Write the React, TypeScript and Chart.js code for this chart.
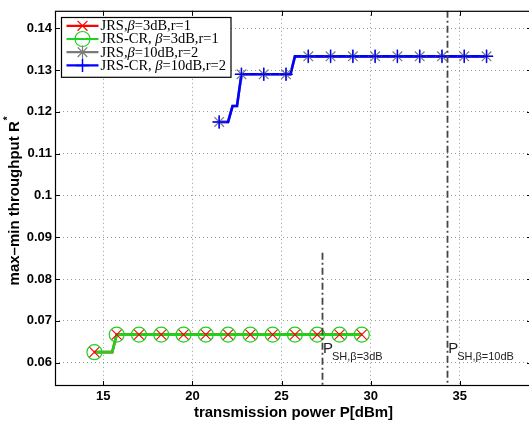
import React, { useEffect, useRef } from 'react';
import { Chart, registerables } from 'chart.js';

Chart.register(...registerables);

// ---- axes ----
const X_TICKS = [15, 20, 25, 30, 35];
const Y_TICKS = [0.06, 0.07, 0.08, 0.09, 0.1, 0.11, 0.12, 0.13, 0.14];
const X_MIN = 12.29;
const X_MAX = 39.05;
const Y_MIN = 0.0544;
const Y_MAX = 0.1442;
const X_TITLE = 'transmission power P[dBm]';
const Y_TITLE = 'max–min throughput R';
const Y_TITLE_SUP = '*';

// ---- beta = 3 dB, r = 1 (markers) ----
const P_LOW = [14.5, 15.75, 17, 18.25, 19.5, 20.75, 22, 23.25, 24.5, 25.75, 27, 28.25, 29.5];
const R_JRS_3DB = [0.0625, 0.0667, 0.0667, 0.0667, 0.0667, 0.0667, 0.0667, 0.0667, 0.0667, 0.0667, 0.0667, 0.0667, 0.0667];
const R_CR_3DB = [0.0625, 0.0667, 0.0667, 0.0667, 0.0667, 0.0667, 0.0667, 0.0667, 0.0667, 0.0667, 0.0667, 0.0667, 0.0667];
// line traces (finer power grid)
const P_LOW_LINE = [14.5, 15.5, 15.75, 29.5];
const R_JRS_3DB_LINE = [0.0625, 0.0625, 0.0667, 0.0667];
const R_CR_3DB_LINE = [0.0625, 0.0625, 0.0667, 0.0667];

// ---- beta = 10 dB, r = 2 (markers) ----
const P_HIGH = [21.5, 22.75, 24, 25.25, 26.5, 27.75, 29, 30.25, 31.5, 32.75, 34, 35.25, 36.5];
const R_JRS_10DB = [0.1176, 0.129, 0.129, 0.129, 0.1333, 0.1333, 0.1333, 0.1333, 0.1333, 0.1333, 0.1333, 0.1333, 0.1333];
const R_CR_10DB = [0.1176, 0.129, 0.129, 0.129, 0.1333, 0.1333, 0.1333, 0.1333, 0.1333, 0.1333, 0.1333, 0.1333, 0.1333];
const P_HIGH_LINE = [21.5, 22, 22.25, 22.5, 22.75, 25.5, 25.75, 36.5];
const R_JRS_10DB_LINE = [0.1176, 0.1176, 0.1214, 0.1214, 0.129, 0.129, 0.1333, 0.1333];
const R_CR_10DB_LINE = [0.1176, 0.1176, 0.1214, 0.1214, 0.129, 0.129, 0.1333, 0.1333];

// ---- legend ----
const SERIES_COLORS = ['#ff0000', '#1ed21e', '#7a7a7a', '#0000ff'];
const SERIES_MARKERS = ['crossRot', 'circle', 'star', 'cross'];
const SERIES_LABELS: [string, boolean][][] = [
  [['JRS,', false], ['β', true], ['=3dB,r=1', false]],
  [['JRS-CR, ', false], ['β', true], ['=3dB,r=1', false]],
  [['JRS,', false], ['β', true], ['=10dB,r=2', false]],
  [['JRS-CR, ', false], ['β', true], ['=10dB,r=2', false]],
];

// ---- annotations ----
const P_SH = [27.27, 34.29];
const P_SH_TOP = [0.0863, Y_MAX];
const P_SH_MAIN = 'P';
const P_SH_SUB = ['SH,β=3dB', 'SH,β=10dB'];
const P_SH_LABEL_Y = 0.0623;

const SANS = '"Liberation Sans", Arial, Helvetica, sans-serif';
const SERIF = '"Liberation Serif", "Times New Roman", serif';

const pts = (xs: number[], ys: number[]) => xs.map((x, i) => ({ x, y: ys[i] }));

function drawMarker(ctx: CanvasRenderingContext2D, style: string, x: number, y: number, r: number) {
  ctx.beginPath();
  const d = r * Math.SQRT1_2;
  if (style === 'circle') {
    ctx.arc(x, y, r, 0, Math.PI * 2);
  }
  if (style === 'cross' || style === 'star') {
    ctx.moveTo(x, y - r); ctx.lineTo(x, y + r);
    ctx.moveTo(x - r, y); ctx.lineTo(x + r, y);
  }
  if (style === 'crossRot' || style === 'star') {
    ctx.moveTo(x - d, y - d); ctx.lineTo(x + d, y + d);
    ctx.moveTo(x - d, y + d); ctx.lineTo(x + d, y - d);
  }
  ctx.stroke();
}

const MARKER_R = [7, 7.5, 6.8, 6.5];

const overlay = {
  id: 'overlay',
  afterDatasetsDraw(chart: any) {
    const { ctx, chartArea: a, scales } = chart;
    const xs = scales.x, ys = scales.y;
    ctx.save();
    ctx.beginPath();
    ctx.rect(a.left, a.top, a.right - a.left, a.bottom - a.top);
    ctx.clip();
    ctx.strokeStyle = '#444';
    ctx.lineWidth = 1.8;
    ctx.setLineDash([7, 3, 2, 3]);
    P_SH.forEach((p, i) => {
      const px = Math.round(xs.getPixelForValue(p)) + 0.5;
      ctx.beginPath();
      ctx.moveTo(px, ys.getPixelForValue(P_SH_TOP[i]));
      ctx.lineTo(px, a.bottom);
      ctx.stroke();
    });
    ctx.setLineDash([]);
    ctx.fillStyle = '#222';
    ctx.textBaseline = 'alphabetic';
    ctx.textAlign = 'left';
    P_SH.forEach((p, i) => {
      const px = xs.getPixelForValue(p) + 1;
      const py = ys.getPixelForValue(P_SH_LABEL_Y);
      ctx.font = `15px ${SANS}`;
      ctx.fillText(P_SH_MAIN, px, py);
      const w = ctx.measureText(P_SH_MAIN).width;
      ctx.font = `11px ${SANS}`;
      ctx.fillText(P_SH_SUB[i], px + w - 1, py + 7);
    });
    ctx.restore();
  },
  afterDraw(chart: any) {
    const { ctx, chartArea: a, scales } = chart;
    const xs = scales.x, ys = scales.y;
    ctx.save();
    // frame
    ctx.strokeStyle = '#000';
    ctx.lineWidth = 1.2;
    ctx.strokeRect(a.left + 0.5, a.top + 0.5, a.right - a.left - 1, a.bottom - a.top - 1);
    // inward ticks
    ctx.lineWidth = 1;
    ctx.beginPath();
    const tl = 5;
    X_TICKS.forEach((t) => {
      const px = Math.round(xs.getPixelForValue(t)) + 0.5;
      ctx.moveTo(px, a.bottom); ctx.lineTo(px, a.bottom - tl);
      ctx.moveTo(px, a.top); ctx.lineTo(px, a.top + tl);
    });
    Y_TICKS.forEach((t) => {
      const py = Math.round(ys.getPixelForValue(t)) + 0.5;
      ctx.moveTo(a.left, py); ctx.lineTo(a.left + tl, py);
      ctx.moveTo(a.right, py); ctx.lineTo(a.right - tl, py);
    });
    ctx.stroke();

    // legend
    const lx = a.left + 5.5;
    const ly = a.top + 6;
    const rowH = 13.2;
    const textX = lx + 40;
    let maxW = 0;
    SERIES_LABELS.forEach((segs) => {
      let w = 0;
      segs.forEach(([s, it]) => {
        ctx.font = `${it ? 'italic ' : ''}14.5px ${SERIF}`;
        w += ctx.measureText(s).width;
      });
      maxW = Math.max(maxW, w);
    });
    const boxW = 40 + maxW + 4;
    const boxH = rowH * 4 + 7;
    ctx.fillStyle = '#fff';
    ctx.fillRect(lx, ly, boxW, boxH);
    ctx.strokeStyle = '#000';
    ctx.lineWidth = 1.2;
    ctx.strokeRect(Math.round(lx) + 0.5, Math.round(ly) + 0.5, boxW, boxH);
    SERIES_LABELS.forEach((segs, i) => {
      const cy = ly + 9 + i * rowH;
      ctx.strokeStyle = SERIES_COLORS[i];
      ctx.lineWidth = 2.2;
      ctx.beginPath();
      ctx.moveTo(lx + 6, cy); ctx.lineTo(lx + 38, cy);
      ctx.stroke();
      ctx.lineWidth = i === 3 ? 1.5 : 1.2;
      drawMarker(ctx, SERIES_MARKERS[i], lx + 22, cy, MARKER_R[i]);
      let tx = textX;
      ctx.fillStyle = '#000';
      ctx.textBaseline = 'middle';
      ctx.textAlign = 'left';
      segs.forEach(([s, it]) => {
        ctx.font = `${it ? 'italic ' : ''}14.5px ${SERIF}`;
        ctx.fillText(s, tx, cy + 0.5);
        tx += ctx.measureText(s).width;
      });
    });

    // y title with superscript
    ctx.save();
    ctx.translate(15, (a.top + a.bottom) / 2 + 3);
    ctx.rotate(-Math.PI / 2);
    ctx.fillStyle = '#000';
    ctx.textBaseline = 'middle';
    ctx.textAlign = 'left';
    ctx.font = `bold 15px ${SANS}`;
    const w1 = ctx.measureText(Y_TITLE).width;
    ctx.font = `bold 10px ${SANS}`;
    const w2 = ctx.measureText(Y_TITLE_SUP).width;
    const start = -(w1 + w2) / 2;
    ctx.font = `bold 15px ${SANS}`;
    ctx.fillText(Y_TITLE, start, 0);
    ctx.font = `bold 10px ${SANS}`;
    ctx.fillText(Y_TITLE_SUP, start + w1 + 1, -7);
    ctx.restore();

    ctx.restore();
  },
};

export default function App() {
  const ref = useRef<HTMLCanvasElement | null>(null);
  useEffect(() => {
    if (!ref.current) return;
    const lineDs = (data: any[], color: string, order: number) => ({
      data, borderColor: color, backgroundColor: color, borderWidth: 2.6, showLine: true,
      pointRadius: 0, tension: 0, order, borderJoinStyle: 'miter',
    });
    const markDs = (data: any[], color: string, style: string, r: number, bw: number, order: number) => ({
      data, showLine: false, pointStyle: style, pointRadius: r, pointBorderColor: color,
      pointBackgroundColor: 'rgba(0,0,0,0)', pointBorderWidth: bw, order,
    });
    const chart = new Chart(ref.current, {
      type: 'scatter',
      data: {
        datasets: [
          lineDs(pts(P_LOW_LINE, R_JRS_3DB_LINE), SERIES_COLORS[0], 10),
          lineDs(pts(P_LOW_LINE, R_CR_3DB_LINE), SERIES_COLORS[1], 9),
          markDs(pts(P_LOW, R_CR_3DB), SERIES_COLORS[1], 'circle', MARKER_R[1], 1.2, 8),
          markDs(pts(P_LOW, R_JRS_3DB), SERIES_COLORS[0], 'crossRot', MARKER_R[0], 1.1, 7),
          lineDs(pts(P_HIGH_LINE, R_JRS_10DB_LINE), SERIES_COLORS[2], 6),
          lineDs(pts(P_HIGH_LINE, R_CR_10DB_LINE), SERIES_COLORS[3], 5),
          markDs(pts(P_HIGH, R_JRS_10DB), SERIES_COLORS[2], 'star', MARKER_R[2], 1.2, 4),
          markDs(pts(P_HIGH, R_CR_10DB), SERIES_COLORS[3], 'cross', MARKER_R[3], 1.5, 3),
        ] as any,
      },
      options: {
        animation: false,
        responsive: false,
        events: [],
        layout: { padding: { top: 8, right: 9, left: 0, bottom: 0 } },
        plugins: { legend: { display: false }, tooltip: { enabled: false } },
        scales: {
          x: {
            type: 'linear', min: X_MIN, max: X_MAX,
            afterBuildTicks: (s: any) => { s.ticks = X_TICKS.map((v) => ({ value: v })); },
            afterFit: (s: any) => { s.height = 38; },
            ticks: { color: '#000', font: { family: SANS, size: 13, weight: 'bold' }, padding: 3, maxRotation: 0, callback: (v: any) => String(v) },
            grid: { color: '#9a9a9a', lineWidth: 1, drawTicks: false },
            border: { display: false, dash: [1, 3] },
            title: { display: true, text: X_TITLE, color: '#000', font: { family: SANS, size: 15, weight: 'bold' }, padding: { top: 0, bottom: 2 } },
          },
          y: {
            type: 'linear', min: Y_MIN, max: Y_MAX,
            afterBuildTicks: (s: any) => { s.ticks = Y_TICKS.map((v) => ({ value: v })); },
            afterFit: (s: any) => { s.width = 55; },
            ticks: { color: '#000', font: { family: SANS, size: 13, weight: 'bold' }, padding: 3, callback: (v: any) => String(Number(Number(v).toFixed(2))) },
            grid: { color: '#9a9a9a', lineWidth: 1, drawTicks: false },
            border: { display: false, dash: [1, 3] },
          },
        },
      } as any,
      plugins: [overlay],
    });
    return () => chart.destroy();
  }, []);
  return (
    <div style={{ position: 'fixed', left: 0, top: 0, width: 541, height: 424, background: '#fff' }}>
      <canvas ref={ref} width={541} height={424} style={{ display: 'block' }} />
    </div>
  );
}
